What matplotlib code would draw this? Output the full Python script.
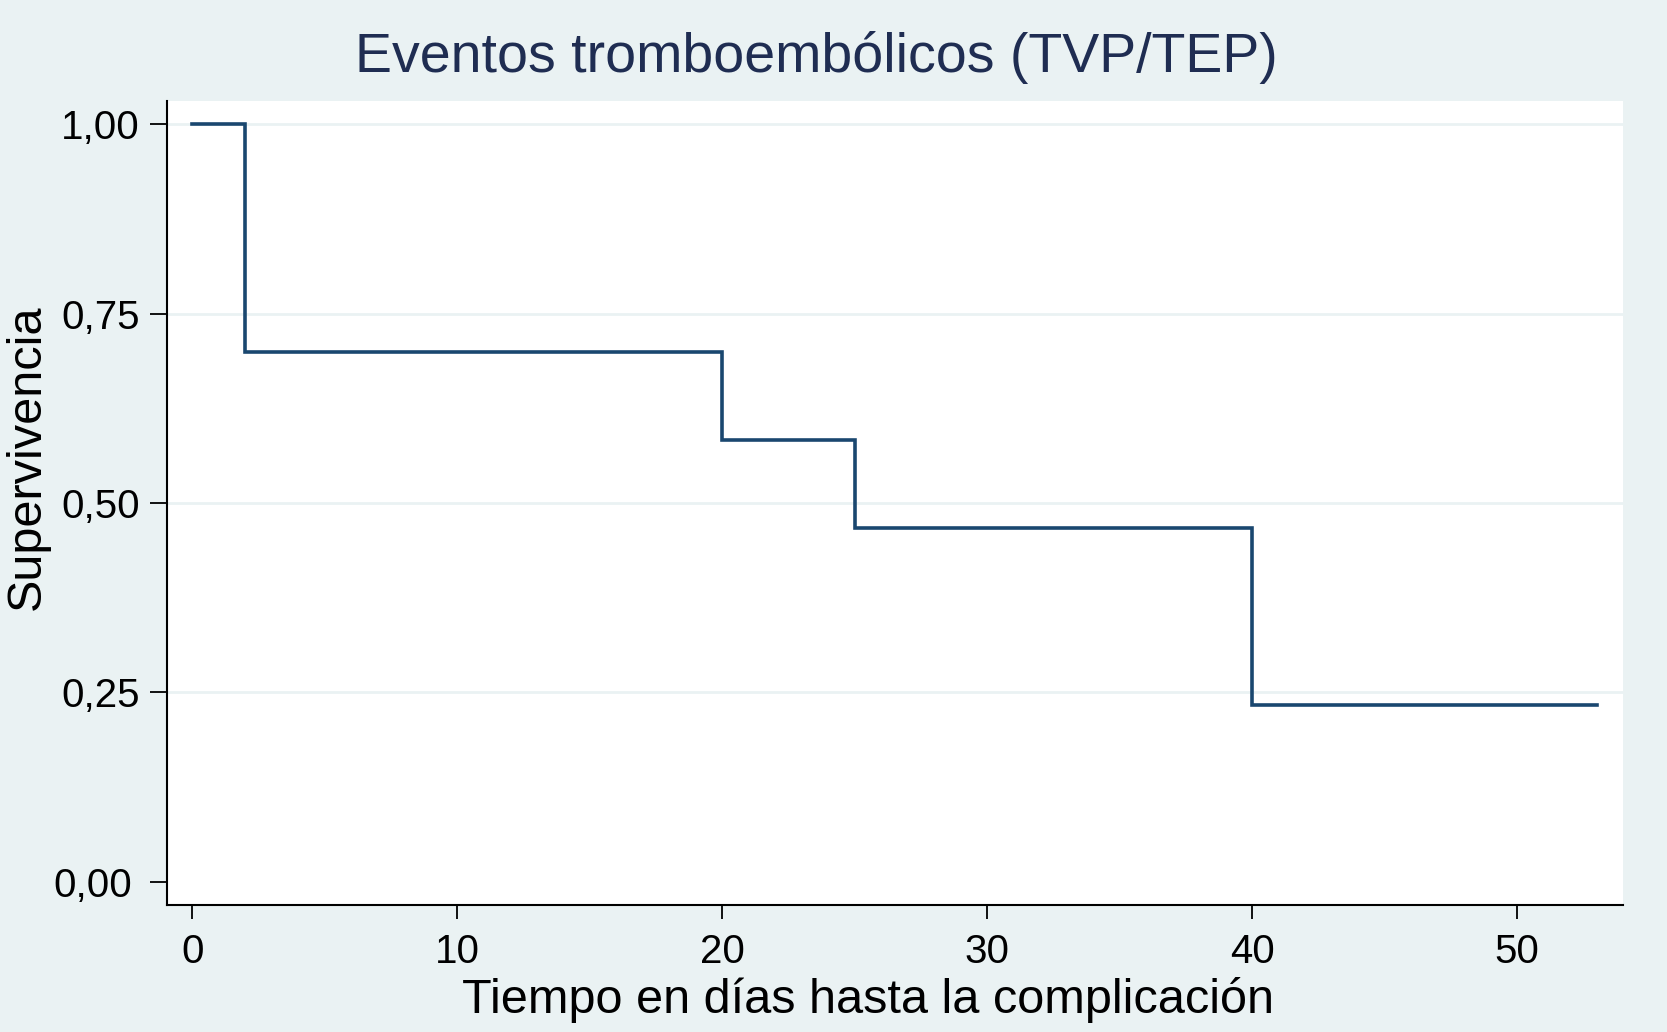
import matplotlib.pyplot as plt
from matplotlib.transforms import ScaledTranslation

# Kaplan-Meier estimate
times = [0, 2, 20, 25, 40, 53]
survival = [1.00, 0.70, 0.5833, 0.4667, 0.2333, 0.2333]

x_ticks = [0, 10, 20, 30, 40, 50]
y_ticks = [0.00, 0.25, 0.50, 0.75, 1.00]
y_tick_labels = ["0,00", "0,25", "0,50", "0,75", "1,00"]

bg = "#EAF2F3"
navy = "#1a476f"
title_col = "#1f2d52"

plt.rcParams['font.family'] = ['Liberation Sans', 'DejaVu Sans']

fig = plt.figure(figsize=(16.67, 10.32), dpi=100, facecolor=bg)
ax = fig.add_axes([167/1667, 1 - 905/1032, (1623 - 167)/1667, (905 - 101)/1032])
ax.set_facecolor("white")

for yv in y_ticks[1:]:
    ax.axhline(yv, color=bg, lw=2.0, zorder=1)

ax.step(times, survival, where='post', color=navy, lw=2.6, zorder=3,
        solid_joinstyle='miter')

ax.set_xlim(-0.96, 54.0)
ax.set_ylim(-0.031, 1.031)
ax.set_xticks(x_ticks)
ax.set_yticks(y_ticks)
ax.set_yticklabels(y_tick_labels)

for s in ['top', 'right']:
    ax.spines[s].set_visible(False)
for s in ['left', 'bottom']:
    ax.spines[s].set_linewidth(1.5)
    ax.spines[s].set_color("black")

ax.tick_params(axis='y', length=12.5, width=1.3, pad=7, labelsize=29)
ax.tick_params(axis='x', length=10, width=1.3, pad=10, labelsize=29)

# the 0,00 label sits a little further left in the original
lbl0 = ax.get_yticklabels()[0]
lbl0.set_transform(lbl0.get_transform() + ScaledTranslation(-8/100, 0, fig.dpi_scale_trans))

fig.text(816/1667, 1 - 72/1032, "Eventos tromboembólicos (TVP/TEP)",
         ha='center', va='baseline', fontsize=40, color=title_col)
fig.text(868/1667, 1 - 1013/1032, "Tiempo en días hasta la complicación",
         ha='center', va='baseline', fontsize=35, color="black")
fig.text(27/1667, 1 - 457/1032, "Supervivencia", rotation=90,
         ha='center', va='center', fontsize=35, color="black")

fig.savefig("out.png", dpi=100, facecolor=bg)
